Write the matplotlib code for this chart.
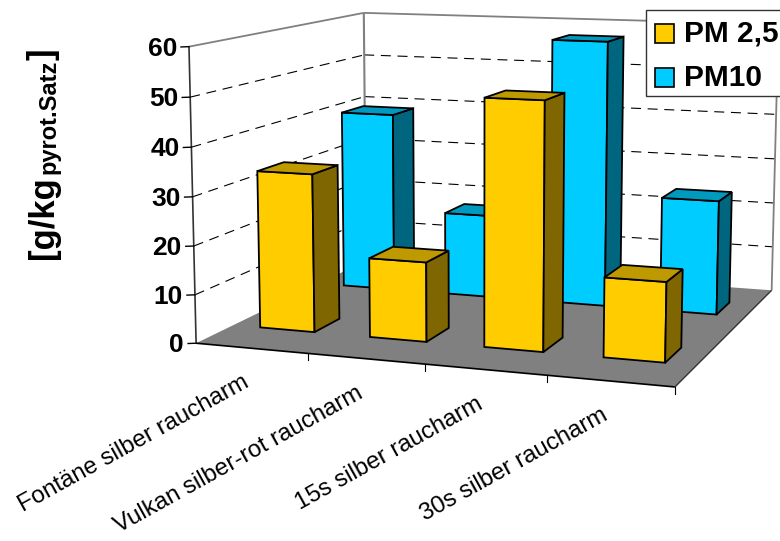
import numpy as np
import matplotlib
matplotlib.use('Agg')
import matplotlib.pyplot as plt
from matplotlib.patches import Polygon, Rectangle

plt.rcParams['font.family'] = ['Liberation Sans', 'DejaVu Sans']

categories = ['Fontäne silber raucharm', 'Vulkan silber-rot raucharm',
              '15s silber raucharm', '30s silber raucharm']
pm25 = [33, 16.4, 50.2, 16]
pm10 = [39.8, 18.3, 57.7, 24.6]
z_ticks = [0, 10, 20, 30, 40, 50, 60]
series_names = ['PM 2,5', 'PM10']

yellow = ('#FFCC00', '#BF9900', '#806600')
blue = ('#00CCFF', '#0099BF', '#006680')

# box corners in (category, depth, value) and where they land on the canvas
box_xyz = [(0, 0, 0), (0, 0, 60), (0, 1, 0), (0, 1, 60), (4, 1, 0), (4, 1, 60), (4, 0, 0)]
box_px = [(197, 341), (188, 47), (365, 263), (365, 12), (772, 288), (778, 25), (675, 389)]

rows = []
rhs = []
for (X, Y, Z), (u, v) in zip(box_xyz, box_px):
    rows.append([X, Y, Z, 1, 0, 0, 0, 0, -u * X, -u * Y, -u * Z])
    rhs.append(u)
    rows.append([0, 0, 0, 0, X, Y, Z, 1, -v * X, -v * Y, -v * Z])
    rhs.append(v)
cam = np.append(np.linalg.lstsq(np.array(rows, float), np.array(rhs, float), rcond=None)[0], 1).reshape(3, 4)


def project(x, y, z):
    p = cam @ np.array([x, y, z, 1.0])
    return p[0] / p[2], p[1] / p[2]


fig = plt.figure(figsize=(7.8, 5.41), dpi=100)
ax = fig.add_axes([0, 0, 1, 1])
ax.set_xlim(0, 780)
ax.set_ylim(541, 0)
ax.axis('off')


def face(points, color, z):
    ax.add_patch(Polygon([project(*p) for p in points], closed=True, facecolor=color,
                         edgecolor='black', linewidth=1.3, joinstyle='miter', zorder=z))


def line3d(a, b, z=2, **kw):
    pa, pb = project(*a), project(*b)
    ax.plot([pa[0], pb[0]], [pa[1], pb[1]], zorder=z, solid_capstyle='butt', **kw)


def bar(x0, x1, y0, y1, h, colors, z):
    # only the three faces the viewer can see
    face([(x0, y0, 0), (x1, y0, 0), (x1, y0, h), (x0, y0, h)], colors[0], z)
    face([(x1, y0, 0), (x1, y1, 0), (x1, y1, h), (x1, y0, h)], colors[2], z)
    face([(x0, y0, h), (x1, y0, h), (x1, y1, h), (x0, y1, h)], colors[1], z)


# grid on the two walls
dash = (0, (9, 6))
for t in z_ticks[1:-1]:
    line3d((0, 0, t), (0, 1, t), color='black', lw=0.8, linestyle=dash)
    line3d((0, 1, t), (4, 1, t), color='black', lw=0.8, linestyle=dash)

# wall outlines
wall_grey = '#808080'
line3d((0, 0, 60), (0, 1, 60), color=wall_grey, lw=1.3)
line3d((0, 1, 60), (4, 1, 60), color=wall_grey, lw=1.3)
line3d((0, 1, 0), (0, 1, 60), color=wall_grey, lw=1.5)
line3d((4, 1, 0), (4, 1, 60), color=wall_grey, lw=1.3)

# floor
ax.add_patch(Polygon([project(0, 0, 0), project(4, 0, 0), project(4, 1, 0), project(0, 1, 0)],
                     closed=True, facecolor='#808080', edgecolor='none', zorder=3))
line3d((0, 0, 0), (4, 0, 0), z=3, color='black', lw=1.2)
line3d((4, 0, 0), (4, 1, 0), z=3, color='#333333', lw=1.0)
line3d((0, 0, 0), (0, 0, 60), z=3, color='#333333', lw=1.2)

# axis ticks and labels
for t in z_ticks:
    px, py = project(0, 0, t)
    ax.plot([px - 8, px], [py + 0.3, py], color='black', lw=1.0, zorder=3)
    ax.text(px - 12, py + 2, str(t), ha='right', va='center', fontsize=19, fontweight='bold')
for i in range(1, 5):
    px, py = project(i, 0, 0)
    ax.plot([px, px], [py, py + 7], color='black', lw=0.8, zorder=3)
for i, name in enumerate(categories):
    px, py = project(i + 0.5, 0, 0)
    ax.text(px - 10, py + 23, name, rotation=29, ha='right', va='top', rotation_mode='anchor', fontsize=17.3)

# bars, far row first and right to left inside each row
x_pad = 0.25
rows3d = [(pm10, blue, 0.685, 0.825, 5), (pm25, yellow, 0.19, 0.335, 20)]
for values, colors, y0, y1, base in rows3d:
    for i in range(len(values) - 1, -1, -1):
        bar(i + x_pad, i + 1 - x_pad, y0, y1, values[i], colors, base + len(values) - i)

# y title, built from three pieces
ax.text(43, 259, '[g/kg', rotation=90, ha='center', va='bottom', fontsize=25, fontweight='bold', zorder=40)
ax.text(37, 174, 'pyrot.Satz', rotation=90, ha='left', va='bottom', fontsize=17, fontweight='bold', zorder=40)
ax.text(43, 60, ']', rotation=90, ha='center', va='bottom', fontsize=25, fontweight='bold', zorder=40)

# legend box runs up to the right border
ax.add_patch(Rectangle((646, 10), 136, 86, facecolor='white', edgecolor='#333333', lw=1.0, zorder=50))
for name, colors, top in zip(series_names, (yellow, blue), (24, 68)):
    ax.add_patch(Rectangle((655, top), 19, 19, facecolor=colors[0], edgecolor='black', lw=1.2, zorder=51))
    ax.text(684, top + 10, name, ha='left', va='center', fontsize=21.5, fontweight='bold', zorder=51)

fig.savefig('out.png', dpi=100)
